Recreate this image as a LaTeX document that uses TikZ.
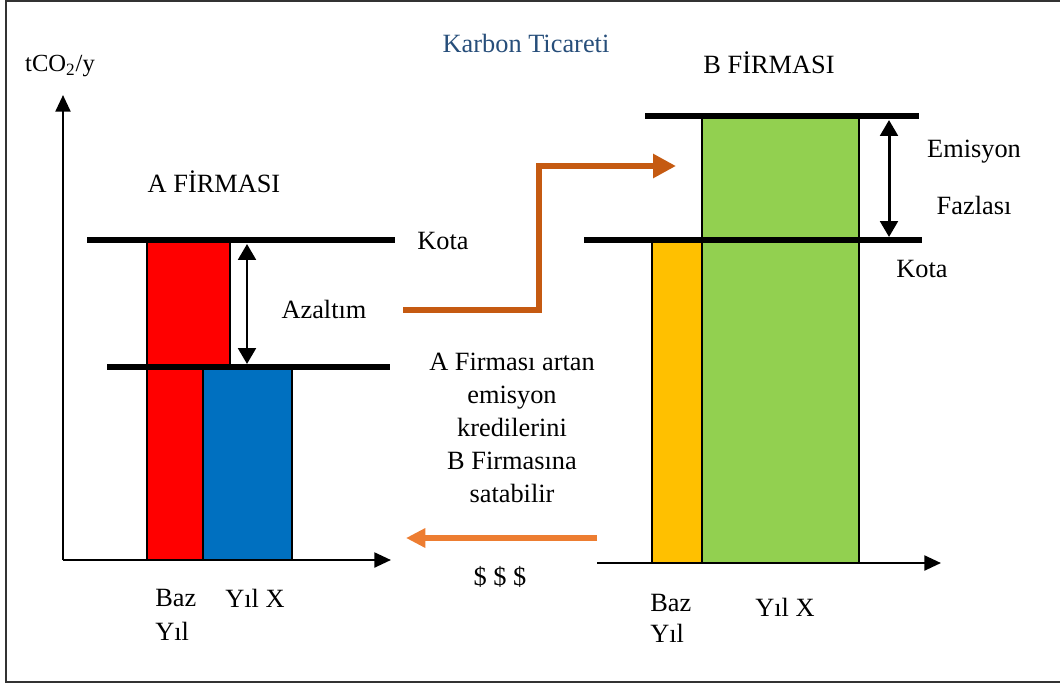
\documentclass[tikz,border=0pt]{standalone}
\usepackage{fontspec}
\setmainfont{Liberation Serif}
\usetikzlibrary{arrows.meta}

\definecolor{barred}{RGB}{255,0,0}
\definecolor{barblue}{RGB}{0,112,192}
\definecolor{baryellow}{RGB}{255,192,0}
\definecolor{bargreen}{RGB}{146,208,80}
\definecolor{tradeorange}{RGB}{197,90,17}
\definecolor{payorange}{RGB}{237,125,49}
\definecolor{titleblue}{RGB}{39,78,122}

\begin{document}
\begin{tikzpicture}[x=0.02cm, y=-0.02cm, >={Triangle[length=9pt, width=10pt]},
  every node/.style={font=\fontsize{15}{19}\selectfont, inner sep=0pt},
  quota/.style={line width=3.4pt},
  axis/.style={->, line width=1.4pt, >={Triangle[length=9.5pt, width=8.5pt]}},
  gap/.style={<->, line width=1.7pt},
  bar/.style={draw, line width=0.8pt},
  trade/.style={line width=3.4pt, miter limit=4}]
\useasboundingbox (0,0) rectangle (1060,686);
\draw[line width=1.3pt, black!80] (1060,1) -- (6,1) -- (6,682) -- (1060,682);

\coordinate (originA) at (63,560);
\coordinate (originB) at (597,563);

\filldraw[bar, fill=barred] (147,240) rectangle (230,367);
\filldraw[bar, fill=barred] (147,367) rectangle (203,560);
\filldraw[bar, fill=barblue] (203,367) rectangle (292,560);
\filldraw[bar, fill=baryellow] (652,240) rectangle (702,563);
\filldraw[bar, fill=bargreen] (702,116) rectangle (859,563);

\draw[axis] (originA) -- (63,95);
\draw[axis] (originA) -- (391,560);
\draw[axis] (originB) -- (941,563);

\draw[quota] (87,240) coordinate (kotaAl) -- (395,240) coordinate (kotaAr);
\draw[quota] (107,367) coordinate (cutAl) -- (390,367) coordinate (cutAr);
\draw[quota] (645,116) coordinate (topBl) -- (919,116) coordinate (topBr);
\draw[quota] (584,240) coordinate (kotaBl) -- (922,240) coordinate (kotaBr);

\coordinate (azTop) at (247,244);
\coordinate (azBot) at (247,364);
\coordinate (exTop) at (889,120);
\coordinate (exBot) at (889,237);
\draw[gap] (azTop) -- (azBot);
\draw[gap] (exTop) -- (exBot);

\node (title) at (526,43) {\color{titleblue}Karbon Ticareti};
\node[font=\fontsize{14}{17}\selectfont] (yunit) at (60,66) {tCO\textsubscript{2}/y};
\node (firmA) at (214,182) {A FİRMASI};
\node (firmB) at (769,63) {B FİRMASI};
\node[anchor=west] (kotaA) at (417,241) {Kota};
\node (azaltim) at (324,309) {Azaltım};
\node (emisyon) at (974,152) {Emisyon};
\node (fazlasi) at (974,205) {Fazlası};
\node (kotaB) at (922,269) {Kota};
\node[align=center, font=\fontsize{15}{18.8}\selectfont] (note) at (512,428)
  {A Firması artan\\emisyon\\kredilerini\\B Firmasına\\satabilir};
\node (money) at (500,577) {\$ \$ \$};
\node[align=left, anchor=west, font=\fontsize{15}{19.3}\selectfont] (bazA) at (155,615) {Baz\\Yıl};
\node (yilA) at (255,598) {Yıl X};
\node[align=left, anchor=west, font=\fontsize{15}{17.5}\selectfont] (bazB) at (650,618) {Baz\\Yıl};
\node (yilB) at (785,607) {Yıl X};

\coordinate (sellStart) at (403,310);
\coordinate (sellTurn) at (539,166);
\coordinate (sellEnd) at (676,166);
\draw[trade, tradeorange, -{Triangle[length=13pt, width=13pt]}] (sellStart) -| (sellTurn) -- (sellEnd);
\coordinate (payStart) at (597,538);
\coordinate (payEnd) at (406,538);
\draw[trade, payorange, -{Triangle[length=11pt, width=10.5pt]}] (payStart) -- (payEnd);
\end{tikzpicture}
\end{document}
